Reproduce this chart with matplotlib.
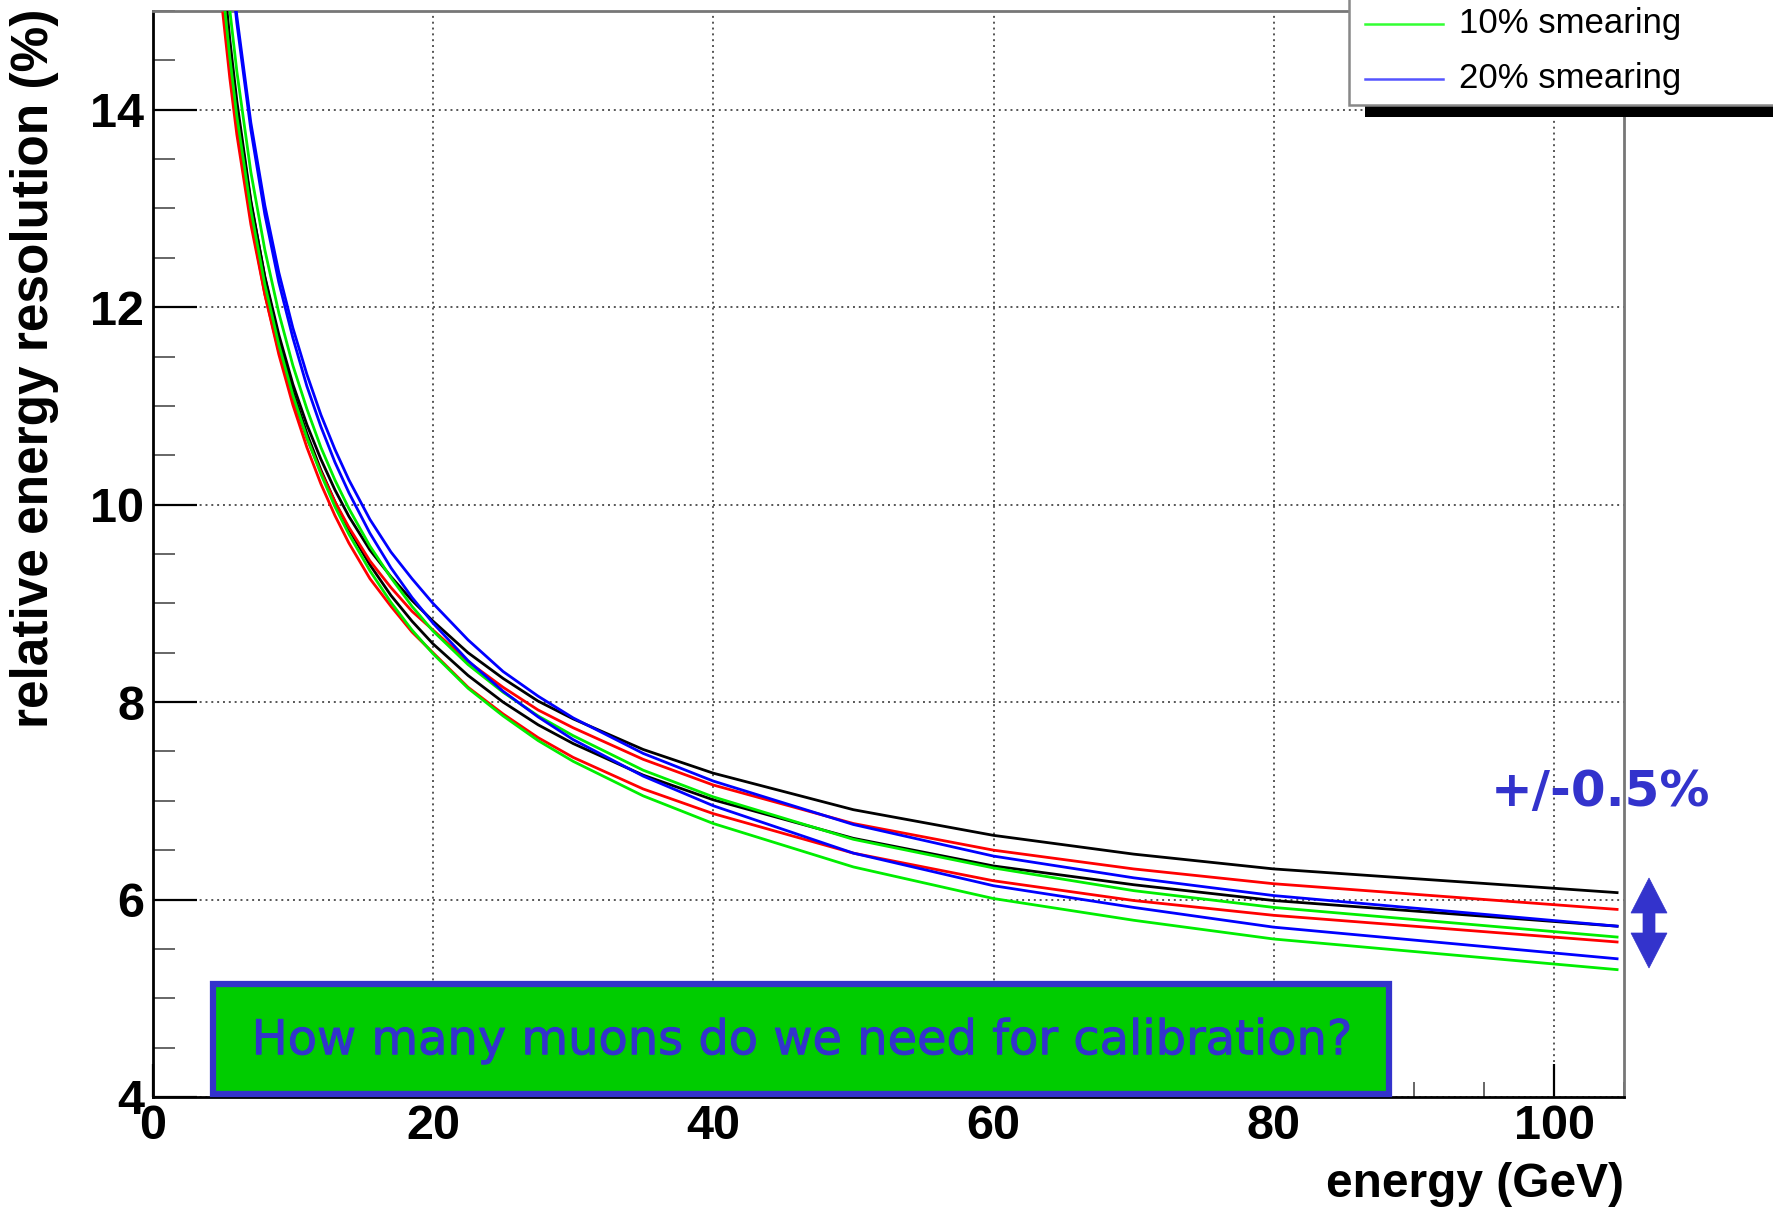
import matplotlib
matplotlib.use("Agg")
import matplotlib.pyplot as plt
import matplotlib.patheffects as pe
from matplotlib.patches import Rectangle, Polygon
from matplotlib.ticker import MultipleLocator

plt.rcParams['font.family'] = ['Liberation Sans', 'DejaVu Sans']

# energy points (GeV) and resolution curves (%)
energy = [5, 5.5, 6, 7, 8, 9, 10, 11, 12, 13, 14, 15.5, 17, 18.5, 20, 22.5, 25,
          27.5, 30, 35, 40, 50, 60, 70, 80, 104.5]

black_upper = [15.33, 14.62, 14.03, 13.06, 12.31, 11.72, 11.22, 10.81, 10.46, 10.15,
               9.88, 9.54, 9.27, 9.03, 8.82, 8.50, 8.24, 8.01, 7.83, 7.52, 7.28,
               6.91, 6.65, 6.46, 6.31, 6.07]
black_lower = [15.44, 14.71, 14.09, 13.08, 12.30, 11.67, 11.15, 10.72, 10.35, 10.03,
               9.75, 9.39, 9.08, 8.82, 8.59, 8.27, 8.00, 7.77, 7.58, 7.26, 7.01,
               6.62, 6.34, 6.15, 5.99, 5.73]
red_upper = [14.98, 14.32, 13.75, 12.84, 12.13, 11.55, 11.07, 10.67, 10.33, 10.03,
             9.77, 9.43, 9.16, 8.92, 8.73, 8.41, 8.15, 7.92, 7.74, 7.42, 7.16,
             6.77, 6.50, 6.31, 6.16, 5.90]
red_lower = [15.22, 14.50, 13.89, 12.90, 12.13, 11.52, 11.01, 10.58, 10.21, 9.89,
             9.61, 9.25, 8.97, 8.71, 8.50, 8.15, 7.88, 7.64, 7.44, 7.12, 6.87,
             6.47, 6.19, 5.99, 5.84, 5.57]
green_upper = [15.74, 15.01, 14.39, 13.37, 12.58, 11.94, 11.41, 10.97, 10.58, 10.25,
               9.96, 9.58, 9.26, 8.97, 8.72, 8.38, 8.10, 7.86, 7.66, 7.31, 7.04,
               6.61, 6.32, 6.09, 5.92, 5.62]
green_lower = [15.21, 14.53, 13.94, 12.99, 12.23, 11.62, 11.11, 10.68, 10.31, 9.98,
               9.70, 9.33, 9.01, 8.73, 8.49, 8.14, 7.86, 7.61, 7.40, 7.05, 6.77,
               6.33, 6.01, 5.79, 5.60, 5.29]
blue_upper = [16.40, 15.62, 14.95, 13.87, 13.03, 12.35, 11.79, 11.32, 10.91, 10.56,
              10.25, 9.85, 9.52, 9.25, 9.00, 8.63, 8.31, 8.06, 7.84, 7.48, 7.20,
              6.76, 6.44, 6.22, 6.04, 5.73]
blue_lower = [16.34, 15.55, 14.88, 13.80, 12.94, 12.25, 11.69, 11.20, 10.79, 10.43,
              10.12, 9.71, 9.36, 9.06, 8.80, 8.42, 8.11, 7.85, 7.62, 7.25, 6.95,
              6.47, 6.14, 5.92, 5.72, 5.40]

legend_labels = ['10% smearing', '20% smearing']
legend_colors = ['#33ff33', '#5555ff']
note_text = 'How many muons do we need for calibration?'
spread_text = '+/-0.5%'

W, H = 1774, 1212
BLUE = '#3333cc'


def px(x, y):
    # pixel position (origin top-left) -> figure fraction
    return (x / W, 1 - y / H)


fig = plt.figure(figsize=(W / 100, H / 100), dpi=100)
ax = fig.add_axes([0.0861, 0.0949, 0.8294, 0.8960])

curves = [
    (black_upper, 'black'), (black_lower, 'black'),
    (red_upper, '#ff0000'), (red_lower, '#ff0000'),
    (green_upper, '#00ee00'), (green_lower, '#00ee00'),
    (blue_upper, '#0000ff'), (blue_lower, '#0000ff'),
]
for vals, col in curves:
    ax.plot(energy, vals, color=col, lw=2.0, zorder=3)

ax.set_xlim(0, 105)
ax.set_ylim(4, 15)
ax.xaxis.set_major_locator(MultipleLocator(20))
ax.xaxis.set_minor_locator(MultipleLocator(5))
ax.yaxis.set_major_locator(MultipleLocator(2))
ax.yaxis.set_minor_locator(MultipleLocator(0.5))

ax.grid(True, which='major', linestyle=(0, (1, 2)), color='#555555', lw=1.4)
ax.set_axisbelow(True)

ax.tick_params(axis='y', which='major', direction='in', length=32, width=1.6,
               color='black', labelsize=35, pad=6)
ax.tick_params(axis='y', which='minor', direction='in', length=16, width=1.4,
               color='#666666')
ax.tick_params(axis='x', which='major', direction='in', length=24, width=1.6,
               color='black', labelsize=35, pad=5)
ax.tick_params(axis='x', which='minor', direction='in', length=11, width=1.4,
               color='#666666')
plt.setp(ax.get_xticklabels() + ax.get_yticklabels(), fontweight='bold')

for side in ['left', 'bottom']:
    ax.spines[side].set_color('black')
    ax.spines[side].set_linewidth(2)
for side in ['top', 'right']:
    ax.spines[side].set_color('#777777')
    ax.spines[side].set_linewidth(2)

# green question box
ax.add_patch(Rectangle((4.3, 4.03), 83.95, 1.115, facecolor='#00cc00',
                       edgecolor=BLUE, lw=4.5, zorder=6, clip_on=False))
ax.text(46.3, 4.57, note_text, ha='center', va='center', fontsize=34.5,
        color=BLUE, family='DejaVu Sans', zorder=7,
        path_effects=[pe.withStroke(linewidth=0.7, foreground=BLUE)])

# axis titles
fig.text(0.0192, 0.9926, 'relative energy resolution (%)', rotation=90,
         ha='center', va='top', fontsize=37, fontweight='bold')
fig.text(0.9155, 0.0124, 'energy (GeV)', ha='right', va='baseline',
         fontsize=34.5, fontweight='bold')

# +/- annotation and double arrow
fig.text(*px(1601, 792), spread_text, ha='center', va='center', fontsize=36,
         fontweight='bold', color=BLUE, family='DejaVu Sans')
cx, top, bot, hw, hl, sw = 1649, 878, 968, 18, 35, 6
arrow_pts = [(cx, top), (cx + hw, top + hl), (cx + sw, top + hl), (cx + sw, bot - hl),
             (cx + hw, bot - hl), (cx, bot), (cx - hw, bot - hl), (cx - sw, bot - hl),
             (cx - sw, top + hl), (cx - hw, top + hl)]
fig.add_artist(Polygon([px(x, y) for x, y in arrow_pts], closed=True,
                       facecolor=BLUE, edgecolor=BLUE, lw=0.5,
                       transform=fig.transFigure))

# legend (cut off by the top edge of the picture)
fig.add_artist(Rectangle(px(1365, 117), 0.3, 0.2, facecolor='black',
                         edgecolor='none', transform=fig.transFigure, zorder=8))
fig.add_artist(Rectangle(px(1349, 105), 0.3, 0.2, facecolor='white',
                         edgecolor='#888888', lw=1.8, transform=fig.transFigure,
                         zorder=9))
for i, (lab, col) in enumerate(zip(legend_labels, legend_colors)):
    y_line = 24 + i * 55
    x0, y0 = px(1365, y_line)
    x1, _ = px(1443, y_line)
    fig.add_artist(plt.Line2D([x0, x1], [y0, y0], color=col, lw=1.8,
                              transform=fig.transFigure, zorder=10))
    fig.text(*px(1459, y_line + 9), lab, ha='left', va='baseline',
             fontsize=25, zorder=10)

fig.savefig('out.png', dpi=100)
